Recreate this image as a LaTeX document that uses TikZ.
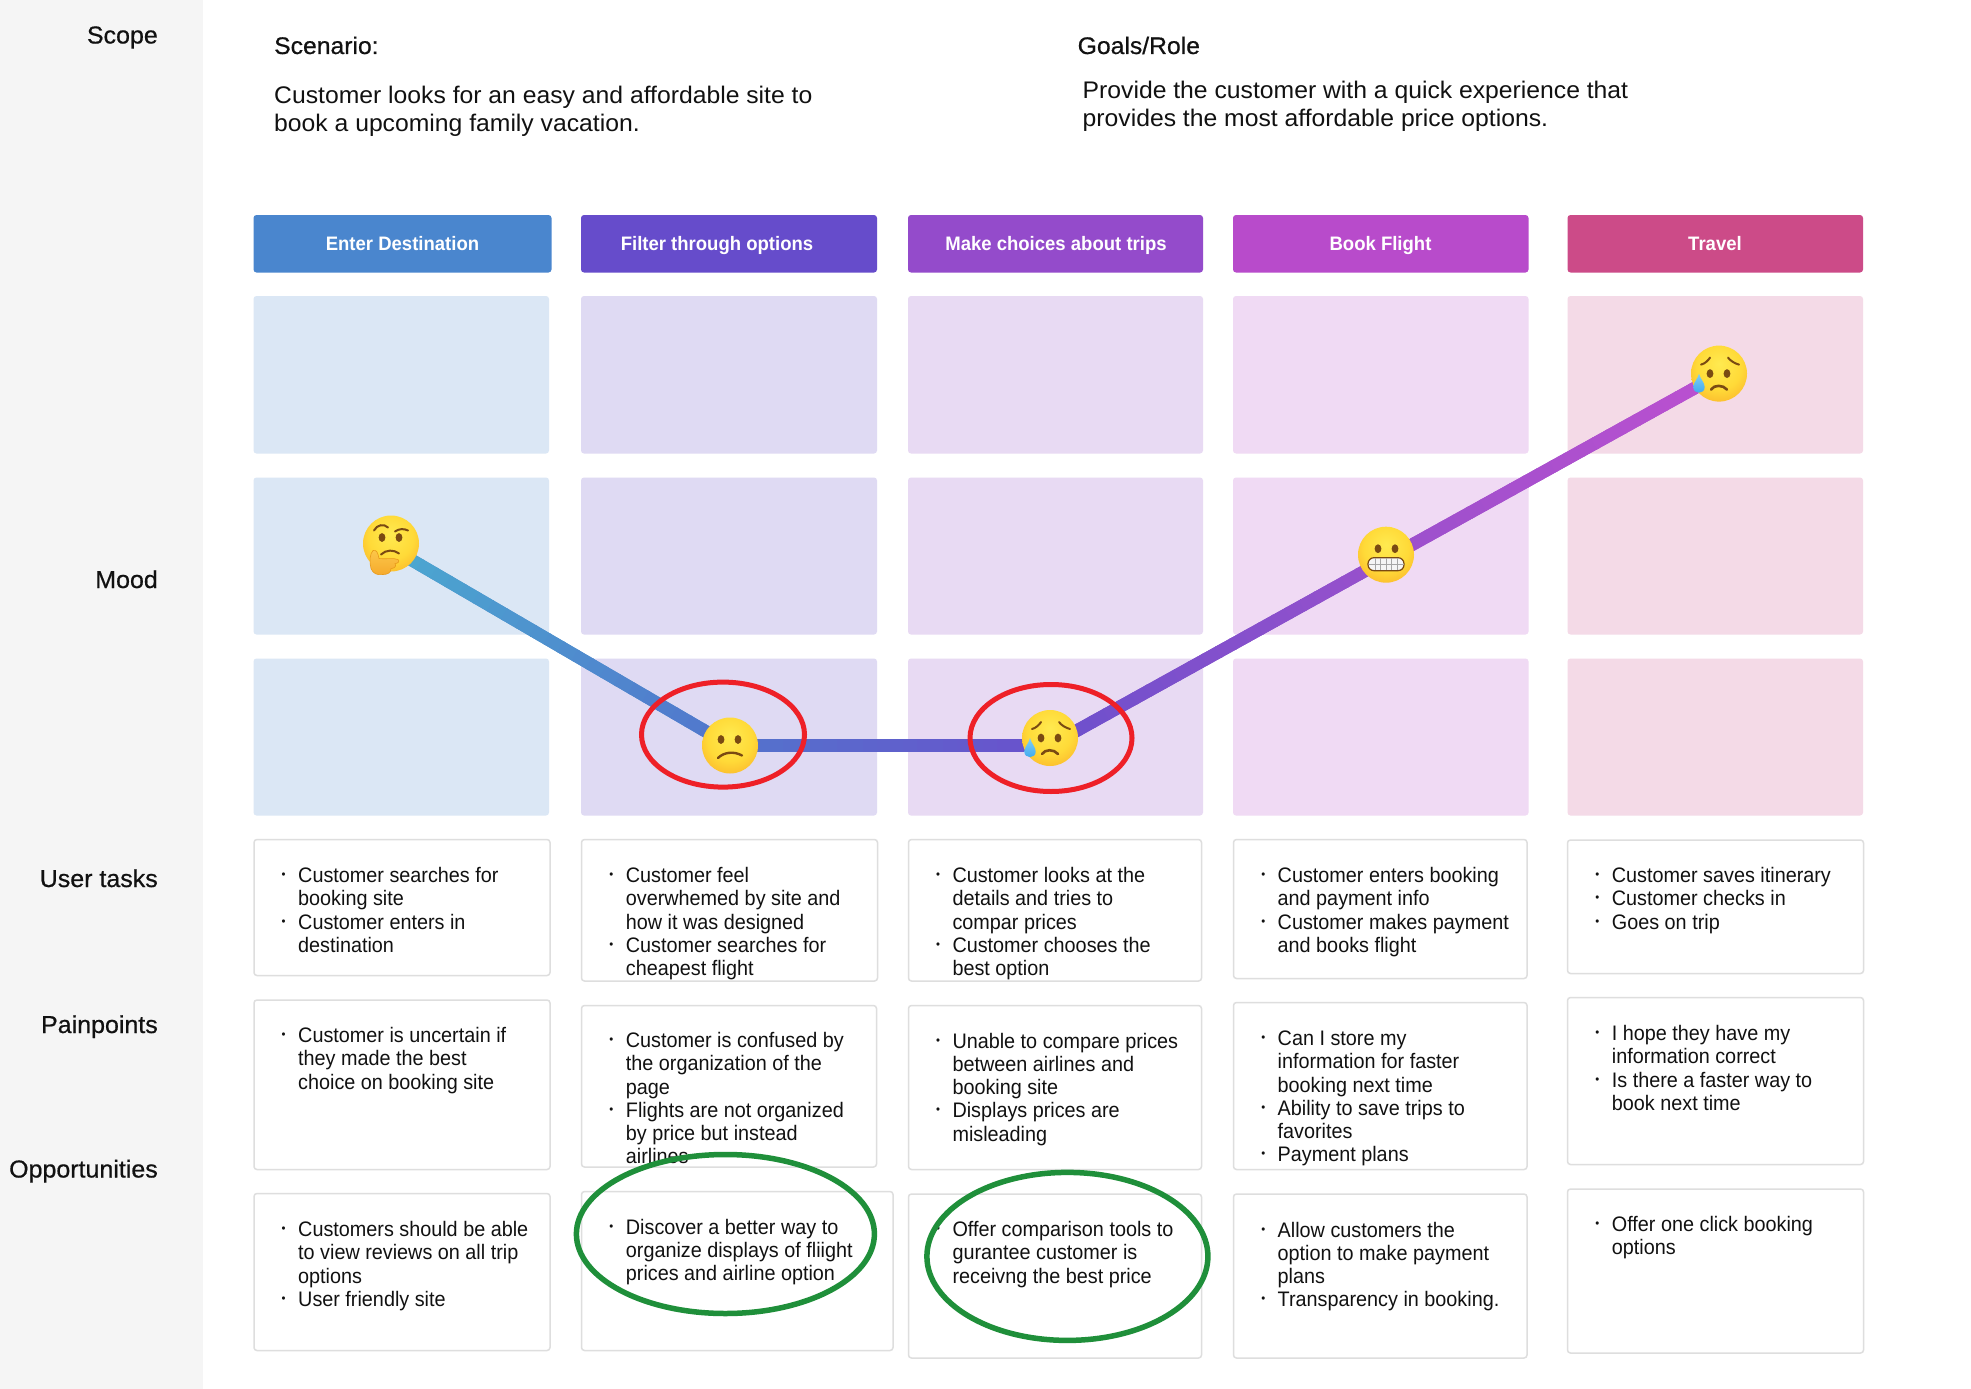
\documentclass[tikz,border=0pt]{standalone}
\usepackage{fontspec}
\setmainfont{Liberation Sans}
\newfontfamily\bodyf[FakeStretch=0.943]{Liberation Sans}
\newfontfamily\headf[FakeStretch=0.95]{Liberation Sans}
\newfontfamily\labelf[FakeStretch=1.02,FakeBold=0.6]{Liberation Sans}
\newfontfamily\topf[FakeStretch=1.03]{Liberation Sans}
\newfontfamily\topbf[FakeStretch=1.03,FakeBold=0.6]{Liberation Sans}
\usetikzlibrary{calc,shapes.geometric}
\definecolor{hA}{HTML}{4A86CE}\definecolor{hB}{HTML}{664CCB}\definecolor{hC}{HTML}{944BCB}\definecolor{hD}{HTML}{B84BCB}\definecolor{hE}{HTML}{CC4B88}
\definecolor{mA}{HTML}{DBE7F5}\definecolor{mB}{HTML}{DFDAF3}\definecolor{mC}{HTML}{E8DAF3}\definecolor{mD}{HTML}{F0DAF4}\definecolor{mE}{HTML}{F4DAE7}
\definecolor{panel}{HTML}{F5F5F5}\definecolor{edge}{HTML}{DEDEDE}\definecolor{ink}{HTML}{111111}
\definecolor{redring}{HTML}{EE2027}\definecolor{greenring}{HTML}{1F8F3A}
\definecolor{lA}{HTML}{4BA9D0}\definecolor{lB}{HTML}{5274CC}\definecolor{lC}{HTML}{6B50CC}\definecolor{lD}{HTML}{9A50CC}\definecolor{lE}{HTML}{BC50D0}
\definecolor{eyec}{HTML}{7A4A12}
\definecolor{fa}{HTML}{FFEA50}\definecolor{fb}{HTML}{FFDA38}\definecolor{fc}{HTML}{FAAE28}\definecolor{fd}{HTML}{EE9018}\definecolor{fe}{HTML}{E28610}
\definecolor{ta}{HTML}{1594E8}\definecolor{tb}{HTML}{A8E2FC}
\definecolor{ha}{HTML}{F29A1C}\definecolor{hb}{HTML}{FFD75A}\definecolor{hline}{HTML}{E89A1A}\definecolor{teeth}{HTML}{F5F5F5}
\pgfdeclareradialshading{facesh}{\pgfpoint{0bp}{9bp}}{color(0bp)=(fa);color(20bp)=(fb);color(37bp)=(fc);color(50bp)=(fd);color(60bp)=(fe)}
\pgfdeclareverticalshading{tearsh}{100bp}{color(0bp)=(ta);color(100bp)=(tb)}
\pgfdeclareverticalshading{handsh}{100bp}{color(0bp)=(ha);color(100bp)=(hb)}
\tikzset{
  cell/.style={rectangle,rounded corners=3pt,inner sep=0pt,outer sep=0pt},
  headbox/.style={cell},
  moodbox/.style={cell},
  textbox/.style={cell,draw=edge,line width=1.5pt,fill=white},
  headtext/.style={anchor=base,text=white,font=\fontsize{19.5}{22}\selectfont\headf\bfseries,inner sep=0pt},
  sidelabel/.style={anchor=base east,text=ink,inner sep=0pt,font=\fontsize{24.5}{28}\selectfont\labelf},
  bodytext/.style={anchor=north west,align=left,inner sep=0pt,text=ink,font=\fontsize{21}{23.25}\selectfont\bodyf},
  toptext/.style={anchor=north west,align=left,inner sep=0pt,text=ink,font=\fontsize{24}{28.4}\selectfont\topf},
  tophead/.style={anchor=base west,inner sep=0pt,text=ink,font=\fontsize{24}{28.4}\selectfont\topbf},
  face/.style={circle,minimum size=56pt,inner sep=0pt,outer sep=0pt,shading=facesh},
  moodline/.style={line width=12.5pt,line cap=butt},
  redloop/.style={ellipse,draw=redring,line width=5pt,inner sep=0pt},
  greenloop/.style={ellipse,draw=greenring,line width=5.5pt,inner sep=0pt},
  feat/.style={eyec,line width=2pt,line cap=round},
}
\newcommand\bx[7]{%
  \pgfmathsetmacro\wid{#5-#3}\pgfmathsetmacro\hei{#6-#4}%
  \node[#1,minimum width=\wid pt,minimum height=\hei pt,#7] (#2) at ({(#3+#5)/2},{(#4+#6)/2}) {};}
\newcommand\bu{\leavevmode\llap{\raisebox{4pt}{\fontsize{12}{12}\selectfont •}\hspace{12.5pt}}}
\newcommand\txt[4]{\pgfmathsetmacro\ytop{#3-18.6}\node[bodytext] (#1) at (#2,\ytop) {\rule{0pt}{18pt}#4};}
\newcommand\eyes[3]{\fill[eyec] (#1,#3) ellipse[x radius=3.4pt,y radius=4.4pt];\fill[eyec] (#2,#3) ellipse[x radius=3.4pt,y radius=4.4pt];}
\newcommand\tear{\path[shading=tearsh] (-20,0) .. controls (-21,5) and (-25.7,9) .. (-25.7,13.5) .. controls (-25.7,21) and (-14.3,21) .. (-14.3,13.5) .. controls (-14.3,9) and (-19,5) .. cycle;}
\newcommand\sadfeat{\eyes{-9}{8}{0}
  \draw[feat] (-18,-9) .. controls (-14,-10) and (-11,-13) .. (-9,-16);
  \draw[feat] (9,-16) .. controls (11,-13) and (16,-10) .. (20,-9);
  \draw[feat,line width=2.6pt] (-8,16) .. controls (-5,11) and (4,11) .. (8,16);
  \tear}
\newcommand\grad[4]{%
  \draw[moodline,#3!50!#4] (#1) -- (#2);
  \foreach \i in {0,...,23}{%
    \pgfmathsetmacro\sA{\i/24}\pgfmathsetmacro\sB{min(1,(\i+1.15)/24)}\pgfmathsetmacro\pc{100*(\i+.5)/24}%
    \colorlet{segc}{#4!\pc!#3}%
    \draw[moodline,segc] ($(#1)!\sA!(#2)$) -- ($(#1)!\sB!(#2)$);}}
\begin{document}
\begin{tikzpicture}[x=1pt,y=-1pt]
\useasboundingbox (0,0) rectangle (1971,1389);
\fill[white] (0,0) rectangle (1971,1389);
\fill[panel] (0,0) rectangle (203,1389);
% side labels
\node[sidelabel] (lscope) at (158,43.5) {Scope};
\node[sidelabel] (lmood) at (158,588) {Mood};
\node[sidelabel] (ltasks) at (158,887) {User tasks};
\node[sidelabel] (lpain) at (158,1033) {Painpoints};
\node[sidelabel] (lopp) at (158,1177.5) {Opportunities};
% top text
\node[tophead] (scen) at (274,54) {Scenario:};
\node[toptext] (scenb) at (274,83.3) {\rule{0pt}{20pt}Customer looks for an easy and affordable site to\\book a upcoming family vacation.};
\node[tophead] (goal) at (1077.5,54) {Goals/Role};
\node[toptext] (goalb) at (1082.5,78.3) {\rule{0pt}{20pt}Provide the customer with a quick experience that\\provides the most affordable price options.};
% headers
\bx{headbox}{hd1}{253.5}{215}{551.5}{272.5}{fill=hA}
\bx{headbox}{hd2}{581}{215}{877}{272.5}{fill=hB}
\bx{headbox}{hd3}{908}{215}{1203}{272.5}{fill=hC}
\bx{headbox}{hd4}{1233}{215}{1528.5}{272.5}{fill=hD}
\bx{headbox}{hd5}{1567.5}{215}{1863}{272.5}{fill=hE}
\node[headtext] (ht1) at (402.5,250.7) {Enter Destination};
\node[headtext] (ht2) at (717,250.7) {Filter through options};
\node[headtext] (ht3) at (1056,250.7) {Make choices about trips};
\node[headtext] (ht4) at (1380.5,250.7) {Book Flight};
\node[headtext] (ht5) at (1715,250.7) {Travel};
% mood grid
\bx{moodbox}{m11}{253.5}{296}{549}{453.5}{fill=mA}
\bx{moodbox}{m12}{253.5}{477.5}{549}{634.5}{fill=mA}
\bx{moodbox}{m13}{253.5}{658.5}{549}{815.5}{fill=mA}
\bx{moodbox}{m21}{581}{296}{877}{453.5}{fill=mB}
\bx{moodbox}{m22}{581}{477.5}{877}{634.5}{fill=mB}
\bx{moodbox}{m23}{581}{658.5}{877}{815.5}{fill=mB}
\bx{moodbox}{m31}{908}{296}{1203}{453.5}{fill=mC}
\bx{moodbox}{m32}{908}{477.5}{1203}{634.5}{fill=mC}
\bx{moodbox}{m33}{908}{658.5}{1203}{815.5}{fill=mC}
\bx{moodbox}{m41}{1233}{296}{1528.5}{453.5}{fill=mD}
\bx{moodbox}{m42}{1233}{477.5}{1528.5}{634.5}{fill=mD}
\bx{moodbox}{m43}{1233}{658.5}{1528.5}{815.5}{fill=mD}
\bx{moodbox}{m51}{1567.5}{296}{1863}{453.5}{fill=mE}
\bx{moodbox}{m52}{1567.5}{477.5}{1863}{634.5}{fill=mE}
\bx{moodbox}{m53}{1567.5}{658.5}{1863}{815.5}{fill=mE}
% text boxes
\bx{textbox}{t11}{254}{839.5}{550}{975.5}{}
\bx{textbox}{t21}{581.5}{839.5}{877.5}{981}{}
\bx{textbox}{t31}{908.5}{839.5}{1201.5}{981}{}
\bx{textbox}{t41}{1233.5}{839.5}{1527}{978.5}{}
\bx{textbox}{t51}{1567.5}{840}{1863.5}{973.5}{}
\bx{textbox}{t12}{254}{1000}{550}{1169.5}{}
\bx{textbox}{t22}{581.5}{1005.5}{876.5}{1167}{}
\bx{textbox}{t32}{908.5}{1005.5}{1201.5}{1169.5}{}
\bx{textbox}{t42}{1233.5}{1002.5}{1527}{1169.5}{}
\bx{textbox}{t52}{1567.5}{997.5}{1863.5}{1164.5}{}
\bx{textbox}{t13}{254}{1193.5}{550}{1350.5}{}
\bx{textbox}{t23}{581.5}{1191.5}{893}{1350.5}{}
\bx{textbox}{t33}{908.5}{1194}{1201.5}{1358}{}
\bx{textbox}{t43}{1233.5}{1194}{1527}{1358}{}
\bx{textbox}{t53}{1567.5}{1189}{1863.5}{1353}{}
% box texts
\txt{x11}{298}{883}{\bu Customer searches for\\booking site\\\bu Customer enters in\\destination}
\txt{x21}{625.7}{883}{\bu Customer feel\\overwhemed by site and\\how it was designed\\\bu Customer searches for\\cheapest flight}
\txt{x31}{952.3}{883}{\bu Customer looks at the\\details and tries to\\compar prices\\\bu Customer chooses the\\best option}
\txt{x41}{1277.5}{883}{\bu Customer enters booking\\and payment info\\\bu Customer makes payment\\and books flight}
\txt{x51}{1611.7}{883}{\bu Customer saves itinerary\\\bu Customer checks in\\\bu Goes on trip}
\txt{x12}{298}{1043}{\bu Customer is uncertain if\\they made the best\\choice on booking site}
\txt{x22}{625.7}{1048}{\bu Customer is confused by\\the organization of the\\page\\\bu Flights are not organized\\by price but instead\\airlines}
\txt{x32}{952.3}{1048.5}{\bu Unable to compare prices\\between airlines and\\booking site\\\bu Displays prices are\\misleading}
\txt{x42}{1277.5}{1046}{\bu Can I store my\\information for faster\\booking next time\\\bu Ability to save trips to\\favorites\\\bu Payment plans}
\txt{x52}{1611.7}{1041}{\bu I hope they have my\\information correct\\\bu Is there a faster way to\\book next time}
\txt{x13}{298}{1237}{\bu Customers should be able\\to view reviews on all trip\\options\\\bu User friendly site}
\txt{x23}{625.7}{1234.5}{\bu Discover a better way to\\organize displays of fliight\\prices and airline option}
\txt{x33}{952.3}{1237}{\bu Offer comparison tools to\\gurantee customer is\\receivng the best price}
\txt{x43}{1277.5}{1237.5}{\bu Allow customers the\\option to make payment\\plans\\\bu Transparency in booking.}
\txt{x53}{1611.7}{1232}{\bu Offer one click booking\\options}
% anchor nodes of the mood line
\path node[circle,minimum size=56pt,inner sep=0pt] (think) at (391,543.5) {}
      node[circle,minimum size=56pt,inner sep=0pt] (conf) at (730,745.5) {}
      node[circle,minimum size=56pt,inner sep=0pt] (sadA) at (1050,738) {}
      node[circle,minimum size=56pt,inner sep=0pt] (grim) at (1386,554.7) {}
      node[circle,minimum size=56pt,inner sep=0pt] (sadB) at (1719,373.6) {};
\coordinate (v1) at ($(think.center)+(0,4.5)$);
\coordinate (v2) at (conf.center);
\coordinate (v3) at ($(sadA.center)+(0,7.5)$);
\coordinate (v4) at ($(grim.center)+(0,4.5)$);
\coordinate (v5) at ($(sadB.center)+(0,1)$);
\grad{v1}{v2}{lA}{lB}
\grad{v2}{v3}{lB}{lC}
\grad{v3}{v4}{lC}{lD}
\grad{v4}{v5}{lD}{lE}
% rings
\node[redloop,minimum width=163pt,minimum height=105pt] (redA) at (723,734.6) {};
\node[redloop,minimum width=162pt,minimum height=107pt] (redB) at (1051,738) {};
\node[greenloop,minimum width=298pt,minimum height=159pt] (greenA) at (725.4,1234) {};
\node[greenloop,minimum width=281pt,minimum height=168pt] (greenB) at (1067.4,1256.4) {};
% emoji
\node[face] (fthink) at (think.center) {};
\begin{scope}[shift={(think.center)}]
  \eyes{-9}{8}{-6}
  \draw[feat] (-17,-13) .. controls (-14,-19) and (-7,-20) .. (-3,-16);
  \draw[feat] (4,-12) .. controls (8,-15) and (13,-15) .. (17,-13);
  \draw[feat] (-10,11) .. controls (-5,6) and (3,6) .. (8,10);
  \path[shading=handsh,draw=hline,line width=.6pt] (-20,25) .. controls (-22,18) and (-21,10) .. (-18,7) .. controls (-14,6) and (-13,10) .. (-12,15) .. controls (-6,16) and (2,14) .. (7,16) .. controls (9,18) and (7,20) .. (4,20) .. controls (6,23) and (3,25) .. (0,25) .. controls (0,29) and (-3,31) .. (-8,31) .. controls (-14,32) and (-18,30) .. cycle;
\end{scope}
\node[face] (fconf) at (conf.center) {};
\begin{scope}[shift={(conf.center)}]
  \eyes{-9}{8}{-6}
  \draw[feat,line width=2.4pt] (-12,12.5) .. controls (-6,6.5) and (4,5.5) .. (12,10);
\end{scope}
\node[face] (fsadA) at (sadA.center) {};
\begin{scope}[shift={(sadA.center)}]\sadfeat\end{scope}
\node[face] (fgrim) at (grim.center) {};
\begin{scope}[shift={(grim.center)}]
  \eyes{-8}{9}{-6}
  \draw[fill=teeth,draw=eyec,line width=1.2pt,rounded corners=6pt] (-18,3) rectangle (18,16);
  \draw[gray!70,line width=.6pt] (-17.5,9.5) -- (17.5,9.5)
    (-11,3.5) -- (-11,15.5) (-5.5,3.5) -- (-5.5,15.5) (0,3.5) -- (0,15.5) (5.5,3.5) -- (5.5,15.5) (11,3.5) -- (11,15.5);
\end{scope}
\node[face] (fsadB) at (sadB.center) {};
\begin{scope}[shift={(sadB.center)}]\sadfeat\end{scope}
\end{tikzpicture}
\end{document}
